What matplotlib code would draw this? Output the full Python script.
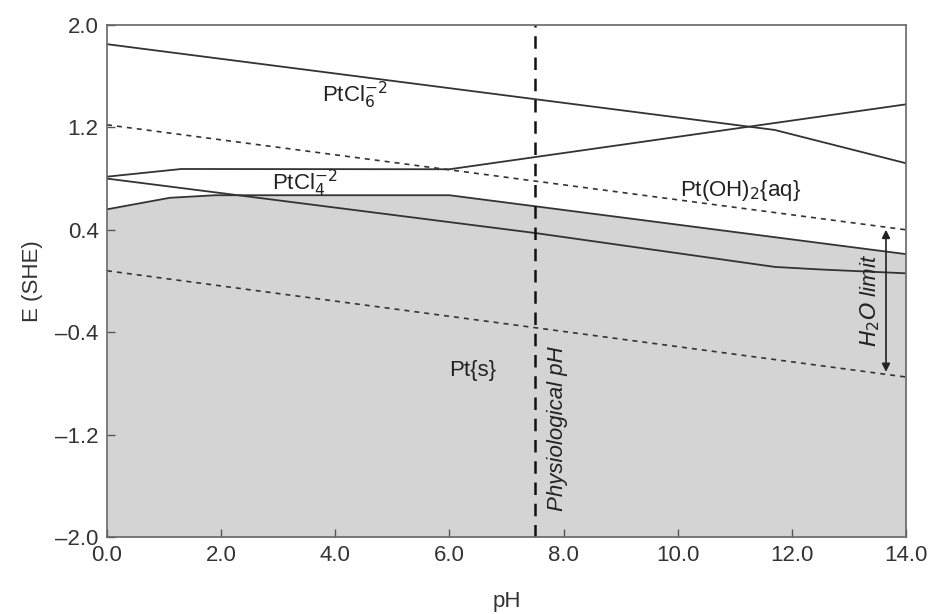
import numpy as np
import matplotlib
matplotlib.use("Agg")
from matplotlib import pyplot as plt

plt.rcParams['font.family'] = ['Liberation Sans', 'DejaVu Sans']

# boundary lines (pH, E vs SHE)
ph_top = [0.0, 11.7, 14.0]
e_top = [1.85, 1.18, 0.92]

ph_rise = [0.0, 1.3, 6.0, 14.0]
e_rise = [0.815, 0.875, 0.873, 1.38]

ph_ptcl4 = [0.0, 7.5, 11.7, 12.5, 14.0]
e_ptcl4 = [0.80, 0.375, 0.11, 0.09, 0.06]

ph_solid = [0.0, 1.1, 1.9, 6.0, 14.0]
e_solid = [0.56, 0.65, 0.67, 0.67, 0.21]

ph_o2 = [0.0, 14.0]
e_o2 = [1.22, 0.40]

ph_h2 = [0.0, 14.0]
e_h2 = [0.08, -0.75]

ph_phys = 7.5
xticks = [0, 2, 4, 6, 8, 10, 12, 14]
yticks = [2.0, 1.2, 0.4, -0.4, -1.2, -2.0]

fig = plt.figure(figsize=(9.29, 6.14), dpi=100)
ax = fig.add_axes([0.1152, 0.1254, 0.86, 0.8339])

ax.fill_between(ph_solid, e_solid, -2.0, color='#d4d4d4', lw=0, zorder=0)
ax.plot(ph_solid, e_solid, color='#333333', lw=1.3)
ax.plot(ph_top, e_top, color='#333333', lw=1.3)
ax.plot(ph_rise, e_rise, color='#333333', lw=1.3)
ax.plot(ph_ptcl4, e_ptcl4, color='#333333', lw=1.3)
ax.plot(ph_o2, e_o2, color='#333333', lw=1.2, ls=(0, (3, 3)))
ax.plot(ph_h2, e_h2, color='#333333', lw=1.2, ls=(0, (3, 3)))
ax.axvline(ph_phys, color='#111111', lw=1.8, ls=(0, (5, 3.5)))

# water stability window arrow
ax.annotate('', xy=(13.65, 0.40), xytext=(13.65, -0.71),
            arrowprops=dict(arrowstyle='<|-|>', color='#222222', lw=1.2,
                            mutation_scale=12, shrinkA=0, shrinkB=0))

fs = 16
ax.text(4.35, 1.45, r'PtCl$_6^{-2}$', fontsize=fs, ha='center', va='center', color='#222222')
ax.text(3.47, 0.76, r'PtCl$_4^{-2}$', fontsize=fs, ha='center', va='center', color='#222222')
ax.text(11.1, 0.71, r'Pt(OH)$_2${aq}', fontsize=fs, ha='center', va='center', color='#222222')
ax.text(6.4, -0.70, 'Pt{s}', fontsize=fs, ha='center', va='center', color='#222222')
ax.text(7.9, -1.15, 'Physiological pH', fontsize=fs, style='italic', rotation=90,
        ha='center', va='center', color='#222222')
ax.text(13.37, -0.15, r'$\mathit{H_2O}$ limit', fontsize=fs, style='italic', rotation=90,
        ha='center', va='center', color='#222222')

ax.set_xlim(0, 14)
ax.set_ylim(-2, 2)
ax.set_xticks(xticks)
ax.set_xticklabels(['%.1f' % v for v in xticks])
ax.set_yticks(yticks)
ax.set_yticklabels([('%.1f' % v).replace('-', '\u2013') for v in yticks])
ax.tick_params(direction='in', length=6, width=1, color='#555555',
               labelsize=fs, labelcolor='#333333', pad=6)
for s in ax.spines.values():
    s.set_color('#666666')
    s.set_linewidth(1.2)

ax.set_xlabel('pH', fontsize=fs, color='#333333', labelpad=18)
ax.set_ylabel('E (SHE)', fontsize=fs, color='#333333', labelpad=9)

fig.savefig('out.png', dpi=100)
